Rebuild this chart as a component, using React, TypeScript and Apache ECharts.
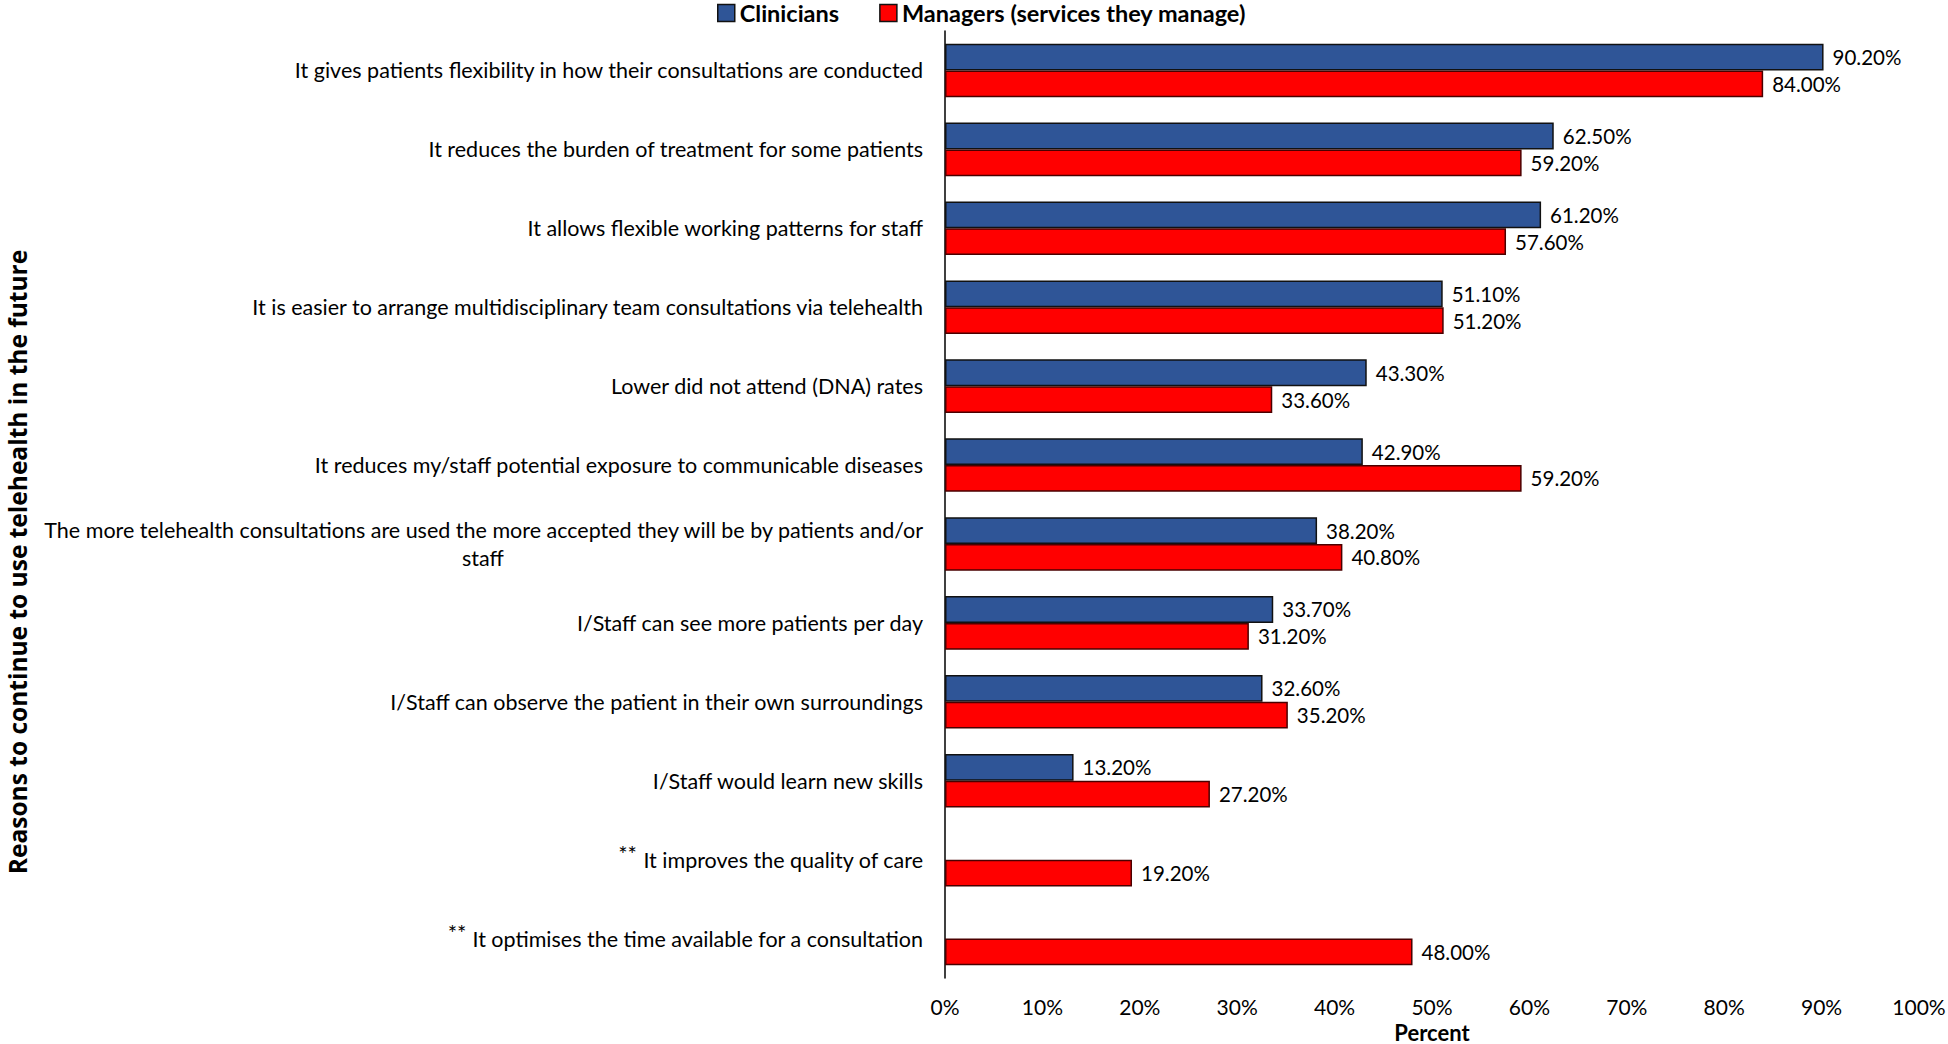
import React, { useEffect, useRef } from "react";
import * as echarts from "echarts";

const categories = [
  "It gives patients flexibility in how their consultations are conducted",
  "It reduces the burden of treatment for some patients",
  "It allows flexible working patterns for staff",
  "It is easier to arrange multidisciplinary team consultations via telehealth",
  "Lower did not attend (DNA) rates",
  "It reduces my/staff potential exposure to communicable diseases",
  "The more telehealth consultations are used the more accepted they will be by patients and/or\nstaff",
  "I/Staff can see more patients per day",
  "I/Staff can observe the patient in their own surroundings",
  "I/Staff would learn new skills",
  "** It improves the quality of care",
  "** It optimises the time available for a consultation",
];

const clinicians: (number | null)[] = [90.2, 62.5, 61.2, 51.1, 43.3, 42.9, 38.2, 33.7, 32.6, 13.2, null, null];
const managers: (number | null)[] = [84.0, 59.2, 57.6, 51.2, 33.6, 59.2, 40.8, 31.2, 35.2, 27.2, 19.2, 48.0];

const tickValues = [0, 10, 20, 30, 40, 50, 60, 70, 80, 90, 100];

const yTitle = "Reasons to continue to use telehealth in the future";
const xTitle = "Percent";

const LABEL_FONT = "Lato";
const CAT_SIZE = 21.5;

function formatCategory(v: string): string {
  if (v.startsWith("** ")) {
    return "{s|**} {n|" + v.slice(3) + "}";
  }
  if (v.includes("\n")) {
    const [a, b] = v.split("\n");
    return "{n|" + a + "}\n{c|" + b + "}";
  }
  return "{n|" + v + "}";
}

export default function App() {
  const ref = useRef<HTMLDivElement>(null);
  useEffect(() => {
    if (!ref.current) return;
    const chart = echarts.init(ref.current, undefined, { renderer: "svg" });
    const labelCommon = {
      show: true,
      position: "right",
      distance: 9,
      color: "#000",
      fontFamily: LABEL_FONT,
      fontSize: 20.5,
      formatter: (p: any) => (p.value == null || p.value === "-" ? "" : Number(p.value).toFixed(2) + "%"),
    };
    chart.setOption({
      animation: false,
      backgroundColor: "#fff",
      legend: {
        left: 712,
        top: 0,
        padding: [1, 5, 5, 5],
        itemWidth: 17,
        itemHeight: 17,
        itemGap: 40,
        icon: "rect",
        itemStyle: { borderColor: "#111", borderWidth: 1.5 },
        textStyle: { fontFamily: LABEL_FONT, fontWeight: "bold", fontSize: 23.5, color: "#000" },
        data: ["Clinicians", "Managers (services they manage)"],
      },
      graphic: [
        {
          type: "text",
          x: 17,
          y: 562,
          rotation: Math.PI / 2,
          style: {
            text: yTitle,
            fontFamily: "Open Sans",
            fontWeight: "bold",
            fontSize: 24.5,
            fill: "#000",
            align: "center",
            verticalAlign: "middle",
          },
        },
        {
          type: "text",
          x: 1432,
          y: 1032,
          style: {
            text: xTitle,
            fontFamily: LABEL_FONT,
            fontWeight: "bold",
            fontSize: 22,
            fill: "#000",
            align: "center",
            verticalAlign: "middle",
          },
        },
      ],
      grid: { left: 945, right: 29, top: 31, bottom: 66, containLabel: false, outerBoundsMode: "none" },
      xAxis: {
        type: "value",
        min: 0,
        max: 100,
        interval: 10,
        axisLine: { show: false },
        axisTick: { show: false },
        splitLine: { show: false },
        axisLabel: {
          margin: 18,
          fontFamily: LABEL_FONT,
          fontSize: 21,
          color: "#000",
          customValues: tickValues,
          formatter: (v: number) => v + "%",
        },
      },
      yAxis: {
        type: "category",
        inverse: true,
        data: categories,
        axisLine: { show: true, lineStyle: { color: "#000", width: 1.5 } },
        axisTick: { show: false },
        axisLabel: {
          margin: 22,
          color: "#000",
          fontFamily: LABEL_FONT,
          fontSize: CAT_SIZE,
          formatter: formatCategory,
          rich: {
            n: { fontFamily: LABEL_FONT, fontSize: CAT_SIZE, color: "#000", lineHeight: 28 },
            c: { fontFamily: LABEL_FONT, fontSize: CAT_SIZE, color: "#000", align: "center", lineHeight: 28 },
            s: { fontFamily: LABEL_FONT, fontSize: 22, color: "#000", verticalAlign: "top", padding: [0, 0, 12, 0] },
          },
        },
      },
      series: [
        {
          name: "Clinicians",
          type: "bar",
          data: clinicians.map((v) => (v == null ? "-" : v)),
          barCategoryGap: "32%",
          barGap: "0%",
          itemStyle: { color: "#2F5597", borderColor: "#111", borderWidth: 1.5 },
          label: labelCommon,
        },
        {
          name: "Managers (services they manage)",
          type: "bar",
          data: managers.map((v) => (v == null ? "-" : v)),
          barCategoryGap: "32%",
          barGap: "0%",
          itemStyle: { color: "#FF0000", borderColor: "#4a0000", borderWidth: 1.5 },
          label: labelCommon,
        },
      ],
    });
    return () => chart.dispose();
  }, []);
  return (
    <div
      ref={ref}
      style={{ position: "fixed", left: 0, top: 0, width: 1948, height: 1044 }}
    />
  );
}
